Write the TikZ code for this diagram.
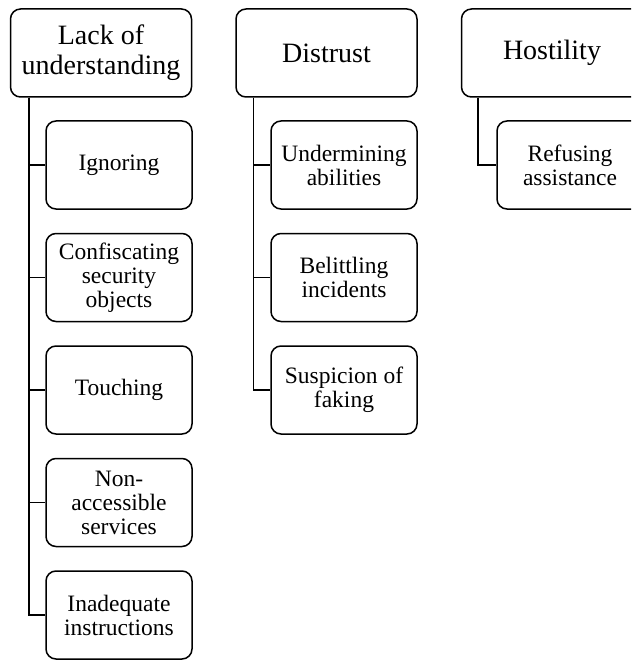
\documentclass[tikz,border=0pt]{standalone}
\usepackage{fontspec}
\setmainfont{Liberation Serif}
\begin{document}
\begin{tikzpicture}[x=1pt,y=-1pt,
  topbox/.style={draw, line width=1.5pt, rounded corners=10pt, minimum width=181pt, minimum height=88pt, align=center, inner sep=0pt, font=\fontsize{28}{30}\selectfont, text=black},
  subbox/.style={draw, line width=1.5pt, rounded corners=10pt, minimum width=146pt, minimum height=88pt, align=center, inner sep=0pt, font=\fontsize{23.5}{24}\selectfont, text=black},
  link/.style={line width=1.5pt}]
\clip (0,0) rectangle (631,660);
\useasboundingbox (0,0) rectangle (631,660);
% column 1
\node[topbox] (lack) at (101,53) {Lack of\\understanding};
\node[subbox] (ign) at (119,165) {Ignoring};
\node[subbox] (conf) at (119,277.5) {Confiscating\\security\\objects};
\node[subbox] (touch) at (119,390) {Touching};
\node[subbox] (nonacc) at (119,502.5) {Non-\\accessible\\services};
\node[subbox] (inad) at (119,615) {Inadequate\\instructions};
% column 2
\node[topbox] (dist) at (326.5,53) {Distrust};
\node[subbox] (under) at (344,165) {Undermining\\abilities};
\node[subbox] (belit) at (344,277.5) {Belittling\\incidents};
\node[subbox] (susp) at (344,390) {Suspicion of\\faking};
% column 3
\node[topbox] (host) at (552,53) {Hostility};
\node[subbox] (refus) at (570,165) {Refusing\\assistance};
% connectors
\foreach \c in {ign,conf,touch,nonacc,inad}
  \draw[link] ([xshift=19pt]lack.south west) |- (\c.west);
\foreach \c in {under,belit,susp}
  \draw[link] ([xshift=18pt]dist.south west) |- (\c.west);
\draw[link] ([xshift=17pt]host.south west) |- (refus.west);
\end{tikzpicture}
\end{document}
